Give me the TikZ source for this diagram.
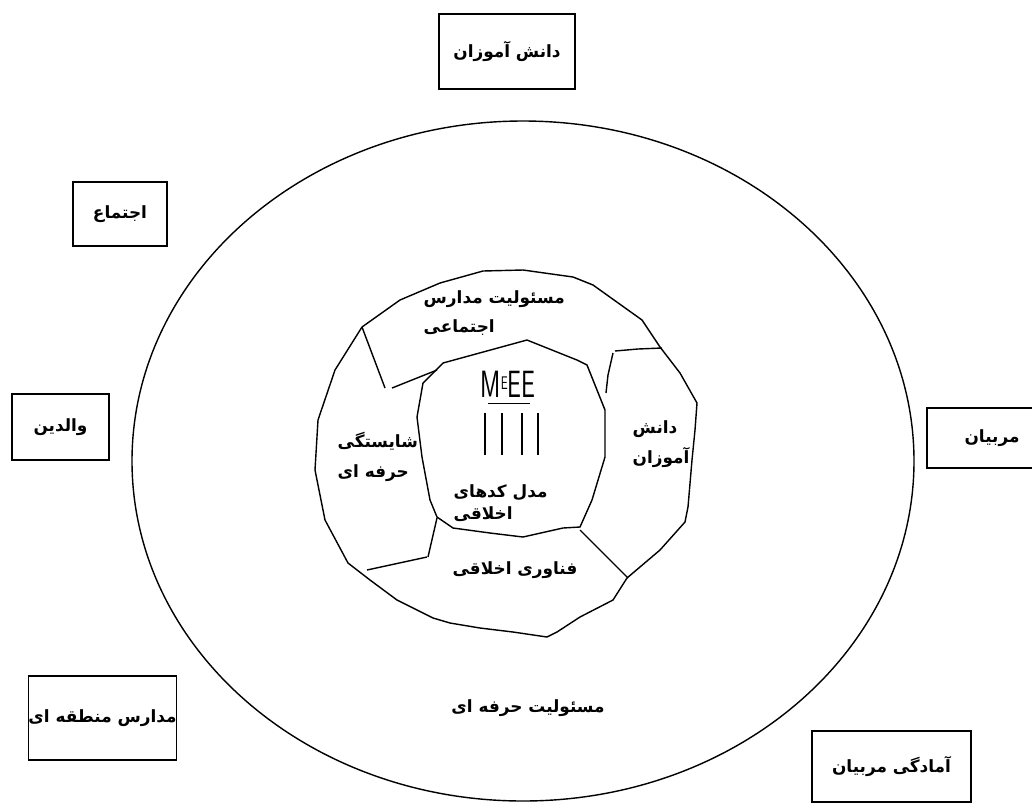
\documentclass[tikz,border=0pt]{standalone}
\usepackage{fontspec}
\usepackage{graphicx}
\usepackage{tikz}
\usetikzlibrary{positioning}
\TeXXeTstate=1
\newfontfamily\farsi[Script=Arabic]{DejaVu Sans}
\newcommand{\fa}[1]{\beginR #1\endR}

\begin{document}
\begin{tikzpicture}[x=0.025cm, y=-0.025cm, line width=1pt,
    lbl/.style = {font=\farsi\bfseries\fontsize{12}{21}\selectfont, inner sep=0pt},
    box/.style = {draw, line width=1.2pt, inner sep=0pt, font=\farsi\bfseries\fontsize{12}{21}\selectfont}]
    \useasboundingbox (0,0) rectangle (1032,805);

    % Rings
    \draw (523,461) ellipse [x radius=391, y radius=340];
    \draw (523,270) -- (573,277) -- (593,285) -- (642,320) -- (660,347) -- (680,373)
        -- (697,403) -- (695,430) -- (692,460) -- (688,507) -- (685,522) -- (660,550)
        -- (627,578) -- (613,600) -- (580,617) -- (557,632) -- (547,637) -- (513,632)
        -- (480,628) -- (450,623) -- (433,618) -- (397,600) -- (370,580) -- (348,563)
        -- (325,520) -- (315,470) -- (318,420) -- (335,370) -- (362,327) -- (400,300)
        -- (440,283) -- (483,271) -- cycle;
    % Core
    \draw (443,363) -- (527,340) -- (577,360) -- (587,365) -- (605,410) -- (605,457)
        -- (592,500) -- (580,527) -- (563,528) -- (523,537) -- (490,533) -- (453,528)
        -- (437,517) -- (430,500) -- (422,457) -- (417,417) -- (423,383) -- cycle;

    % Dividers
    \draw (362,327) -- (385,388);
    \draw (392,388) -- (437,370);
    \draw (662,348) -- (638,349) -- (615,351);
    \draw (613,353) -- (608,375) -- (606,393);
    \draw (580,530) -- (628,578);
    \draw (437,518) -- (428,557);
    \draw (427,557) -- (367,570);

    % Boxes
    \node[box, minimum width=3.4cm, minimum height=1.875cm] (students) at (507,51.5) {\fa{دانش آموزان}};
    \node[box, minimum width=2.35cm, minimum height=1.6cm] (society) at (120,214) {\fa{اجتماع}};
    \node[box, minimum width=2.425cm, minimum height=1.65cm] (parents) at (60.5,427) {\fa{والدین}};
    \node[box, minimum width=3.25cm, minimum height=1.5cm] (trainers) at (992,438) {\fa{مربیان}};
    \node[box, minimum width=3.525cm, minimum height=2.1cm] (district) at (102.5,718) {\fa{مدارس منطقه ای}};
    \node[box, minimum width=3.975cm, minimum height=1.775cm] (readiness) at (891.5,766.5) {\fa{آمادگی مربیان}};

    % Ring labels
    \node[lbl, align=left, anchor=west] (socresp) at (423,313) {\fa{مسئولیت مدارس}\\\fa{اجتماعی}};
    \node[lbl, align=left, anchor=west] (compet) at (337,457) {\fa{شایستگی}\\\fa{حرفه ای}};
    \node[lbl, align=left, anchor=west] (pupils) at (632,444) {\fa{دانش}\\\fa{آموزان}};
    \node[lbl, align=left, anchor=west, font=\farsi\bfseries\fontsize{12}{16}\selectfont] (codes) at (453,503) {\fa{مدل کدهای}\\\fa{اخلاقی}};
    \node[lbl] (ethtech) at (515,570) {\fa{فناوری اخلاقی}};
    \node[lbl] (profresp) at (528,708) {\fa{مسئولیت حرفه ای}};

    % Model mark
    \node[inner sep=0pt] (meee) at (508,384) {\scalebox{0.65}[1]{\sffamily\fontsize{27}{27}\selectfont M\raisebox{0.5ex}{\fontsize{13}{13}\selectfont E}EE}};
    \draw[line width=0.7pt] (488,403) -- (530,403);
    \foreach \bx in {485,502,522,538}
        \draw[line width=0.9pt] (\bx,413) -- (\bx,455);
\end{tikzpicture}
\end{document}
